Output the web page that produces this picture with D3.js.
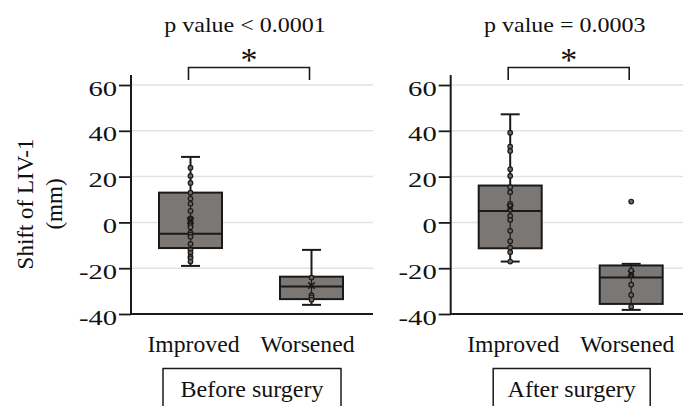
<!DOCTYPE html>
<html><head><meta charset="utf-8">
<script src="https://cdn.jsdelivr.net/npm/d3@7"></script>
<style>
html,body{margin:0;padding:0;background:#fff;}
svg{display:block;}
text{font-family:"Liberation Serif","Times New Roman",serif;fill:#111;}
</style></head>
<body>
<svg id="chart" width="683" height="406"></svg>
<script>
// ---- data ----
const categories = ["Improved", "Worsened"];
const panelNames = ["Before surgery", "After surgery"];
const pLabels = ["p value < 0.0001", "p value = 0.0003"];
const yTicks = [-40, -20, 0, 20, 40, 60];
const gridValues = [-20, 0, 20, 40, 60];
const yLabelLines = ["Shift of LIV-1", "(mm)"];

// box stats: [min, q1, median, q3, max, mean]
const beforeImprovedStats = [-19, -11.2, -5, 13, 28.6, 0.8];
const beforeWorsenedStats = [-36, -33.5, -28, -23.7, -12, -27.6];
const afterImprovedStats = [-17.1, -11.3, 5, 16.1, 47.2, 6.3];
const afterWorsenedStats = [-38.2, -35.6, -24.1, -18.8, -18.1, -22.5];

// individual points
const beforeImprovedPoints = [23.9, 20.3, 17.2, 13.0, 10.4, 8.1, 5.0, 1.7, 1.1, 0, -1.2, -2.1, -4.5, -5.3, -6.3, -9.4, -12, -13.3, -14.9, -15.6, -17.1];
const beforeWorsenedPoints = [-24.1, -31.8, -32.7, -33.8];
const afterImprovedPoints = [39.2, 33.1, 31.2, 23.2, 20.3, 15.4, 13.2, 8.1, 7.2, 5.5, 2.8, 1.1, -3.7, -8.2, -11, -13, -17.1];
const afterWorsenedPoints = [9.1, -21, -22.9, -27.2, -31.7, -36.8];

const panelStats = [[beforeImprovedStats, beforeWorsenedStats], [afterImprovedStats, afterWorsenedStats]];
const panelPoints = [[beforeImprovedPoints, beforeWorsenedPoints], [afterImprovedPoints, afterWorsenedPoints]];

// ---- layout ----
const svg = d3.select("#chart");
const panelX = [131, 450.7];
const panelW = 242;
const y = d3.scaleLinear().domain([-40, 60]).range([314, 85]);
const boxW = 63, capHalf = 9.5;
const dark = "#1a1a1a";

function stretchText(g, x, yy, txt, size, sx, anchor, rotate) {
  const t = g.append("text")
    .attr("transform", `translate(${x},${yy})` + (rotate ? ` rotate(${rotate})` : "") + ` scale(${sx},1)`)
    .attr("text-anchor", anchor || "middle")
    .attr("font-size", size)
    .text(txt);
  return t;
}

// y axis label
stretchText(svg, 33, 204, yLabelLines[0], 23, 1.0, "middle", -90);
stretchText(svg, 62, 204, yLabelLines[1], 23, 1.0, "middle", -90);

panelX.forEach((px, pi) => {
  const g = svg.append("g").attr("transform", `translate(${px},0)`);
  const x = d3.scaleBand().domain(categories).range([0, panelW]).paddingInner(0).paddingOuter(0);
  const cx = c => x(c) + x.bandwidth() / 2 - 1;

  // gridlines
  g.selectAll("line.grid").data(gridValues).join("line")
    .attr("class", "grid")
    .attr("x1", 0).attr("x2", panelW)
    .attr("y1", d => y(d)).attr("y2", d => y(d))
    .attr("stroke", "#e2e2e2").attr("stroke-width", 1.5);

  // y axis
  const ax = g.append("g").call(d3.axisLeft(y).tickValues(yTicks).tickSize(12).tickFormat(d => String(d)));
  ax.select(".domain").remove();
  ax.selectAll(".tick line").attr("stroke", dark).attr("stroke-width", 1.8);
  ax.selectAll(".tick text").remove();
  ax.selectAll(".tick").each(function(d) {
    stretchText(d3.select(this), -14, 10, String(d), 22, 1.3, "end");
  });
  g.append("line").attr("x1", 0).attr("x2", 0).attr("y1", 75).attr("y2", y(-40) + 1)
    .attr("stroke", dark).attr("stroke-width", 2);
  // x axis line
  g.append("line").attr("x1", 0).attr("x2", panelW).attr("y1", y(-40)).attr("y2", y(-40))
    .attr("stroke", dark).attr("stroke-width", 2);

  // boxes
  categories.forEach((c, ci) => {
    const s = panelStats[pi][ci];
    const xc = cx(c);
    const bg = g.append("g");
    // whisker
    bg.append("line").attr("x1", xc).attr("x2", xc).attr("y1", y(s[0])).attr("y2", y(s[4]))
      .attr("stroke", dark).attr("stroke-width", 2);
    [s[0], s[4]].forEach(v => {
      bg.append("line").attr("x1", xc - capHalf).attr("x2", xc + capHalf).attr("y1", y(v)).attr("y2", y(v))
        .attr("stroke", dark).attr("stroke-width", 2);
    });
    // box
    bg.append("rect").attr("x", xc - boxW / 2).attr("width", boxW)
      .attr("y", y(s[3])).attr("height", y(s[1]) - y(s[3]))
      .attr("fill", "#7a7775").attr("stroke", dark).attr("stroke-width", 2);
    // inner whisker line over box
    bg.append("line").attr("x1", xc).attr("x2", xc).attr("y1", y(s[3])).attr("y2", y(s[1]))
      .attr("stroke", dark).attr("stroke-width", 1.2);
    // median
    bg.append("line").attr("x1", xc - boxW / 2).attr("x2", xc + boxW / 2).attr("y1", y(s[2])).attr("y2", y(s[2]))
      .attr("stroke", dark).attr("stroke-width", 2);
    // points
    bg.selectAll("circle").data(panelPoints[pi][ci]).join("circle")
      .attr("cx", xc).attr("cy", d => y(d)).attr("r", 2.3)
      .attr("fill", "#6e6b69").attr("stroke", dark).attr("stroke-width", 1.2);
    // mean marker
    const my = y(s[5]), m = 3.2;
    bg.append("path").attr("d", `M${xc - m},${my - m}L${xc + m},${my + m}M${xc - m},${my + m}L${xc + m},${my - m}`)
      .attr("stroke", dark).attr("stroke-width", 1.6).attr("fill", "none");

    // category label
    stretchText(g, xc + (ci === 0 ? 3 : -4), 352, c, 23, 1.03, "middle");
  });

  // bracket + asterisk + p value
  const x1 = cx(categories[0]) - 2, x2 = cx(categories[1]) - 2;
  g.append("path").attr("d", `M${x1},80V67.5H${x2}V80`).attr("fill", "none")
    .attr("stroke", dark).attr("stroke-width", 1.6);
  stretchText(g, (x1 + x2) / 2, 71, "*", 34, 1.0, "middle");
  stretchText(g, (x1 + x2) / 2 - 4, 31.5, pLabels[pi], 20, 1.2, "middle");

  // panel label box
  const lx = (x1 + x2) / 2 + 3;
  const bw = pi === 0 ? 178 : 157;
  g.append("rect").attr("x", lx - bw / 2).attr("y", 368.5).attr("width", bw).attr("height", 60)
    .attr("fill", "none").attr("stroke", dark).attr("stroke-width", 1.5);
  stretchText(g, lx, 397, panelNames[pi], 24, 1.0, "middle");
});
</script>
</body></html>
